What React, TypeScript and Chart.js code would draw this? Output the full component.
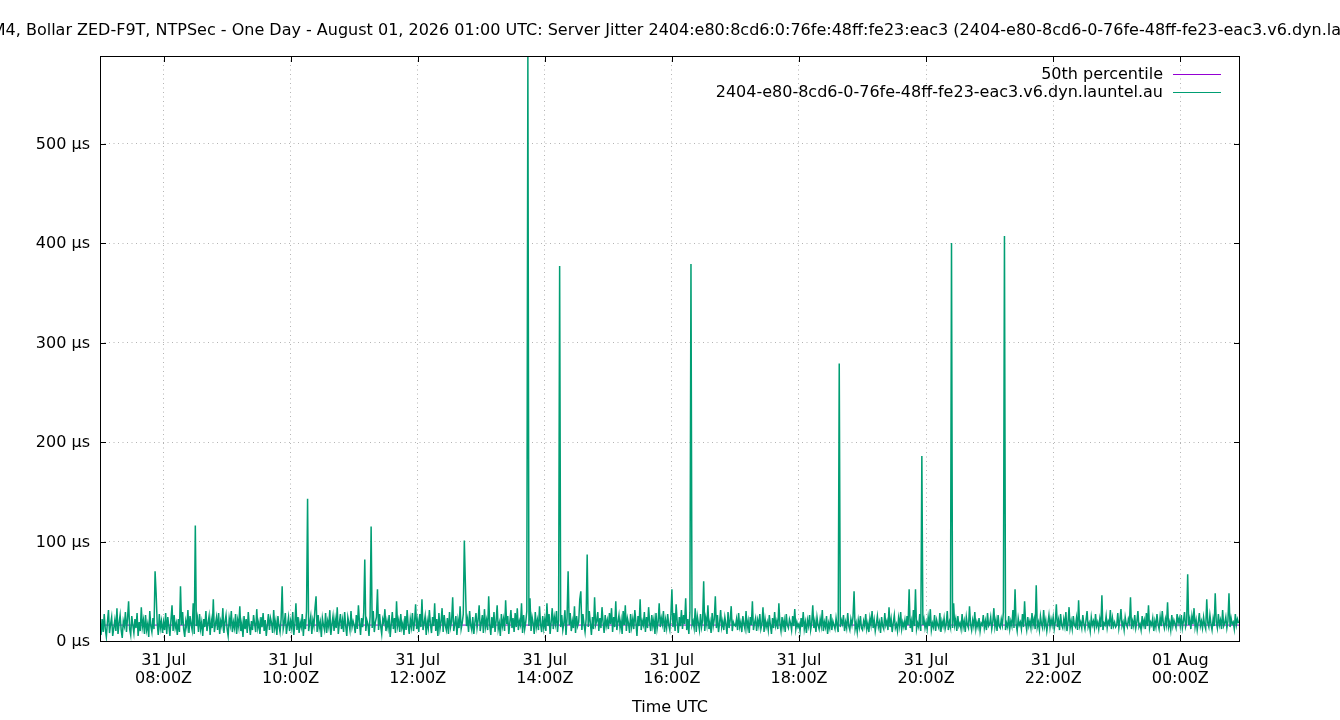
import React, { useEffect, useRef } from "react";
import { Chart, registerables } from "chart.js";

Chart.register(...registerables);

const TITLE =
  "RasPi CM4, Bollar ZED-F9T, NTPSec - One Day - August 01, 2026 01:00 UTC: Server Jitter 2404:e80:8cd6:0:76fe:48ff:fe23:eac3 (2404-e80-8cd6-0-76fe-48ff-fe23-eac3.v6.dyn.launtel.au)";
const SERVER = "2404-e80-8cd6-0-76fe-48ff-fe23-eac3.v6.dyn.launtel.au";

// hours since 31 Jul 00:00Z
const X_MIN = 7.0;
const X_MAX = 24.94;
const Y_MAX = 588;
const SAMPLES_PER_HOUR = 60;

const xTickHours = [8, 10, 12, 14, 16, 18, 20, 22, 24];
const xTickLabels = [
  ["31 Jul", "08:00Z"],
  ["31 Jul", "10:00Z"],
  ["31 Jul", "12:00Z"],
  ["31 Jul", "14:00Z"],
  ["31 Jul", "16:00Z"],
  ["31 Jul", "18:00Z"],
  ["31 Jul", "20:00Z"],
  ["31 Jul", "22:00Z"],
  ["01 Aug", "00:00Z"],
];
const yTicks = [0, 100, 200, 300, 400, 500];

const percentile50 = 16;

// jitter in µs, one sample per minute
const jitter07 = [
  14, 6, 22, 9, 27, 12, 4, 19, 31, 8,
  17, 24, 5, 13, 21, 10, 33, 7, 18, 26,
  11, 3, 20, 15, 29, 9, 23, 40, 12, 6,
  25, 16, 8, 22, 13, 28, 5, 19, 10, 34,
  14, 21, 7, 26, 11, 17, 4, 30, 15, 9,
  23, 12, 70, 48, 18, 6, 27, 13, 20, 8,
];
const jitter08 = [
  19, 11, 28, 7, 24, 15, 5, 21, 36, 10,
  26, 13, 18, 6, 22, 9, 55, 16, 29, 12,
  4, 20, 14, 31, 8, 25, 17, 11, 38, 7,
  116, 15, 23, 9, 27, 12, 19, 5, 22, 14,
  30, 10, 18, 25, 6, 21, 13, 42, 9, 17,
  24, 11, 28, 7, 20, 15, 33, 8, 19, 26,
];
const jitter09 = [
  12, 5, 23, 16, 30, 9, 19, 13, 27, 7,
  21, 14, 35, 10, 18, 4, 25, 12, 22, 8,
  29, 15, 6, 20, 11, 26, 17, 9, 32, 13,
  19, 7, 24, 14, 28, 10, 21, 5, 16, 27,
  11, 23, 18, 8, 31, 13, 20, 6, 25, 15,
  9, 22, 55, 12, 18, 28, 7, 16, 24, 10,
];
const jitter10 = [
  20, 13, 29, 6, 17, 38, 11, 24, 8, 19,
  14, 27, 5, 22, 12, 30, 143, 10, 18, 25,
  7, 21, 15, 33, 45, 9, 26, 13, 19, 4,
  23, 16, 11, 28, 8, 20, 14, 31, 6, 17,
  25, 10, 22, 13, 34, 7, 18, 27, 12, 21,
  9, 29, 15, 5, 24, 18, 11, 30, 14, 20,
];
const jitter11 = [
  16, 8, 26, 12, 36, 19, 6, 23, 14, 28,
  82, 10, 21, 17, 5, 25, 115, 13, 30, 9,
  19, 24, 52, 11, 27, 15, 7, 22, 18, 32,
  10, 20, 13, 26, 4, 17, 29, 12, 23, 8,
  40, 15, 21, 9, 27, 13, 18, 6, 25, 11,
  31, 16, 7, 22, 14, 28, 10, 19, 37, 12,
];
const jitter12 = [
  21, 9, 27, 14, 42, 11, 18, 25, 6, 20,
  13, 31, 17, 8, 24, 15, 38, 10, 22, 5,
  28, 12, 19, 33, 9, 26, 16, 11, 23, 7,
  29, 14, 20, 44, 10, 17, 25, 6, 21, 13,
  35, 12, 18, 27, 101, 58, 15, 22, 9, 30,
  16, 11, 24, 7, 19, 28, 13, 21, 36, 10,
];
const jitter13 = [
  18, 26, 8, 32, 14, 21, 11, 45, 16, 6,
  24, 13, 29, 9, 20, 36, 12, 18, 5, 27,
  15, 22, 10, 41, 17, 25, 7, 19, 31, 13,
  23, 9, 28, 14, 33, 11, 20, 16, 38, 8,
  26, 12, 19, 30, 588, 15, 43, 10, 24, 18,
  7, 29, 14, 21, 11, 35, 17, 9, 25, 13,
];
const jitter14 = [
  22, 10, 38, 15, 27, 7, 19, 33, 12, 24,
  17, 30, 9, 21, 377, 14, 26, 11, 18, 31,
  6, 23, 70, 16, 28, 10, 20, 13, 35, 8,
  25, 15, 19, 42, 50, 11, 27, 17, 9, 22,
  87, 14, 30, 18, 6, 24, 12, 44, 16, 20,
  29, 10, 23, 13, 34, 19, 8, 26, 15, 21,
];
const jitter15 = [
  12, 28, 17, 33, 9, 24, 14, 40, 11, 19,
  26, 13, 21, 7, 30, 16, 36, 10, 23, 18,
  8, 27, 14, 22, 12, 31, 19, 5, 25, 15,
  42, 11, 20, 16, 29, 9, 24, 13, 34, 18,
  10, 26, 15, 22, 7, 28, 12, 19, 38, 14,
  23, 17, 30, 9, 21, 13, 27, 16, 11, 25,
];
const jitter16 = [
  52, 14, 28, 10, 37, 19, 8, 24, 15, 31,
  12, 26, 17, 43, 11, 22, 7, 29, 379, 16,
  20, 13, 33, 9, 25, 18, 11, 27, 14, 21,
  60, 10, 23, 16, 36, 12, 19, 8, 28, 15,
  22, 45, 13, 26, 9, 18, 31, 14, 20, 11,
  24, 17, 7, 29, 13, 21, 35, 10, 19, 16,
];
const jitter17 = [
  15, 22, 11, 28, 14, 19, 9, 25, 17, 12,
  30, 13, 20, 8, 24, 16, 40, 11, 18, 23,
  10, 21, 15, 27, 12, 17, 34, 9, 22, 14,
  19, 11, 26, 16, 7, 23, 13, 29, 15, 20,
  12, 38, 17, 10, 24, 14, 21, 9, 27, 16,
  13, 22, 18, 11, 25, 15, 32, 12, 19, 14,
];
const jitter18 = [
  17, 10, 23, 14, 29, 12, 19, 8, 21, 15,
  26, 11, 18, 36, 13, 20, 9, 24, 16, 12,
  22, 15, 31, 10, 19, 14, 25, 7, 18, 13,
  27, 11, 20, 16, 12, 23, 15, 9, 279, 14,
  21, 17, 26, 10, 19, 13, 28, 15, 11, 22,
  16, 24, 50, 12, 18, 9, 21, 14, 25, 13,
];
const jitter19 = [
  11, 20, 15, 27, 12, 18, 9, 23, 16, 30,
  13, 21, 10, 17, 25, 14, 19, 8, 24, 15,
  12, 28, 16, 20, 11, 34, 14, 22, 9, 18,
  26, 13, 17, 10, 23, 15, 29, 12, 19, 14,
  21, 11, 25, 16, 52, 13, 20, 9, 31, 15,
  52, 12, 18, 14, 27, 10, 186, 16, 22, 13,
];
const jitter20 = [
  19, 12, 24, 15, 32, 11, 18, 14, 26, 10,
  21, 16, 13, 28, 9, 20, 15, 23, 12, 17,
  30, 11, 19, 14, 400, 13, 38, 16, 22, 10,
  25, 15, 18, 12, 27, 14, 20, 9, 24, 16,
  13, 35, 17, 11, 21, 15, 29, 12, 19, 14,
  23, 10, 18, 16, 26, 13, 20, 11, 28, 15,
];
const jitter21 = [
  17, 24, 12, 19, 33, 14, 21, 10, 26, 15,
  13, 22, 16, 29, 407, 11, 18, 14, 25, 12,
  20, 15, 31, 13, 52, 17, 10, 23, 16, 19,
  12, 27, 14, 40, 18, 11, 24, 15, 20, 13,
  28, 16, 22, 12, 56, 14, 19, 11, 25, 17,
  13, 31, 15, 21, 10, 18, 26, 14, 22, 16,
];
const jitter22 = [
  24, 12, 19, 37, 14, 21, 11, 27, 16, 13,
  22, 15, 29, 10, 18, 34, 13, 20, 12, 25,
  16, 14, 23, 11, 41, 15, 19, 13, 26, 17,
  12, 21, 30, 14, 18, 10, 24, 16, 20, 13,
  27, 15, 19, 12, 22, 14, 46, 11, 18, 16,
  25, 13, 20, 17, 31, 12, 23, 15, 19, 14,
];
const jitter23 = [
  16, 28, 13, 21, 32, 15, 19, 11, 24, 17,
  14, 22, 18, 44, 12, 20, 15, 26, 13, 19,
  30, 14, 17, 11, 25, 16, 21, 12, 28, 15,
  36, 13, 19, 16, 23, 10, 20, 14, 27, 17,
  12, 24, 15, 30, 18, 13, 22, 16, 39, 14,
  19, 11, 26, 15, 21, 17, 13, 27, 18, 23,
];
const jitter24 = [
  15, 26, 13, 20, 29, 14, 18, 67, 16, 22,
  12, 25, 17, 33, 14, 21, 11, 19, 28, 15,
  20, 13, 24, 16, 12, 42, 18, 14, 26, 17,
  11, 22, 15, 48, 19, 13, 27, 16, 21, 12,
  31, 15, 18, 24, 13, 20, 48, 14, 23, 17,
  19, 12, 27, 16, 22, 18,
];

const jitterByHour: [number, number[]][] = [
  [7, jitter07], [8, jitter08], [9, jitter09], [10, jitter10], [11, jitter11], [12, jitter12],
  [13, jitter13], [14, jitter14], [15, jitter15], [16, jitter16], [17, jitter17], [18, jitter18],
  [19, jitter19], [20, jitter20], [21, jitter21], [22, jitter22], [23, jitter23], [24, jitter24],
];

const GREEN = "#009e73";
const PURPLE = "#9400d3";
const GRID = "#b4b4b4";
const FONT = "'DejaVu Sans', sans-serif";
const FONT_SIZE = 16;

// gnuplot-ish frame: border box, inward ticks on all sides, key inside top right, title
const gnuplotFrame = {
  id: "gnuplotFrame",
  afterDraw(chart: any) {
    const { ctx, chartArea, scales } = chart;
    const { left, right, top, bottom } = chartArea;
    const tic = 6;
    ctx.save();
    ctx.strokeStyle = "#000";
    ctx.lineWidth = 1;
    ctx.strokeRect(left + 0.5, top + 0.5, right - left - 1, bottom - top);

    ctx.beginPath();
    xTickHours.forEach((h) => {
      const px = Math.round(scales.x.getPixelForValue(h)) + 0.5;
      ctx.moveTo(px, bottom);
      ctx.lineTo(px, bottom - tic);
      ctx.moveTo(px, top);
      ctx.lineTo(px, top + tic);
    });
    yTicks.forEach((v) => {
      const py = Math.round(scales.y.getPixelForValue(v)) + 0.5;
      ctx.moveTo(left, py);
      ctx.lineTo(left + tic, py);
      ctx.moveTo(right, py);
      ctx.lineTo(right - tic, py);
    });
    ctx.stroke();

    ctx.font = `${FONT_SIZE}px ${FONT}`;
    ctx.fillStyle = "#000";
    ctx.textBaseline = "middle";
    ctx.textAlign = "right";
    chart.data.datasets.forEach((ds: any, i: number) => {
      const y = top + 19 + i * 18;
      ctx.fillText(ds.label, right - 77, y);
      ctx.strokeStyle = ds.borderColor;
      ctx.lineWidth = 1;
      ctx.beginPath();
      ctx.moveTo(right - 67, Math.round(y) - 0.5);
      ctx.lineTo(right - 19, Math.round(y) - 0.5);
      ctx.stroke();
    });

    ctx.textAlign = "center";
    ctx.fillText(TITLE, chart.width / 2 + 3, 31);
    ctx.restore();
  },
};

const App = () => {
  const canvasRef = useRef<HTMLCanvasElement>(null);
  const chartRef = useRef<any>(null);

  useEffect(() => {
    if (!canvasRef.current) return;
    const jitterPoints = jitterByHour.flatMap(([h, vals]) =>
      vals.map((v, j) => ({ x: h + j / SAMPLES_PER_HOUR, y: v }))
    );

    Chart.defaults.font.family = FONT;
    Chart.defaults.font.size = FONT_SIZE;
    Chart.defaults.color = "#000";

    if (chartRef.current) chartRef.current.destroy();
    chartRef.current = new Chart(canvasRef.current, {
      type: "line",
      data: {
        datasets: [
          {
            label: "50th percentile",
            data: [
              { x: X_MIN, y: percentile50 },
              { x: X_MAX, y: percentile50 },
            ],
            borderColor: PURPLE,
            borderWidth: 1,
            pointRadius: 0,
            order: 2,
          },
          {
            label: SERVER,
            data: jitterPoints,
            borderColor: GREEN,
            borderWidth: 1.5,
            pointRadius: 0,
            tension: 0,
            order: 1,
          },
        ],
      },
      options: {
        animation: false,
        responsive: false,
        events: [],
        layout: { padding: { top: 56, right: 100, left: 0, bottom: 0 } },
        plugins: {
          legend: { display: false },
          title: { display: false },
          tooltip: { enabled: false },
        },
        scales: {
          x: {
            type: "linear",
            min: X_MIN,
            max: X_MAX,
            afterBuildTicks: (scale: any) => {
              scale.ticks = xTickHours.map((v) => ({ value: v }));
            },
            afterFit: (scale: any) => {
              scale.height = 79;
            },
            grid: { color: GRID, lineWidth: 1, drawTicks: false },
            border: { display: false, dash: [1, 3.5] },
            ticks: {
              padding: 11,
              autoSkip: false,
              maxRotation: 0,
              font: { size: FONT_SIZE, lineHeight: 1.125 },
              callback: (value: any) => {
                const i = xTickHours.indexOf(Number(value));
                return i >= 0 ? xTickLabels[i] : "";
              },
            },
            title: {
              display: true,
              text: "Time UTC",
              padding: { top: 0, bottom: 3 },
            },
          },
          y: {
            min: 0,
            max: Y_MAX,
            afterBuildTicks: (scale: any) => {
              scale.ticks = yTicks.map((v) => ({ value: v }));
            },
            afterFit: (scale: any) => {
              scale.width = 100;
            },
            grid: { color: GRID, lineWidth: 1, drawTicks: false },
            border: { display: false, dash: [1, 3.5] },
            ticks: {
              padding: 10,
              labelOffset: 1,
              callback: (value: any) => `${value} µs`,
            },
          },
        },
      },
      plugins: [gnuplotFrame],
    } as any);

    return () => {
      if (chartRef.current) {
        chartRef.current.destroy();
        chartRef.current = null;
      }
    };
  }, []);

  return (
    <div style={{ position: "absolute", left: 0, top: 0, width: 1340, height: 720, background: "#fff" }}>
      <canvas ref={canvasRef} width={1340} height={720} style={{ display: "block" }} />
    </div>
  );
};

export default App;
